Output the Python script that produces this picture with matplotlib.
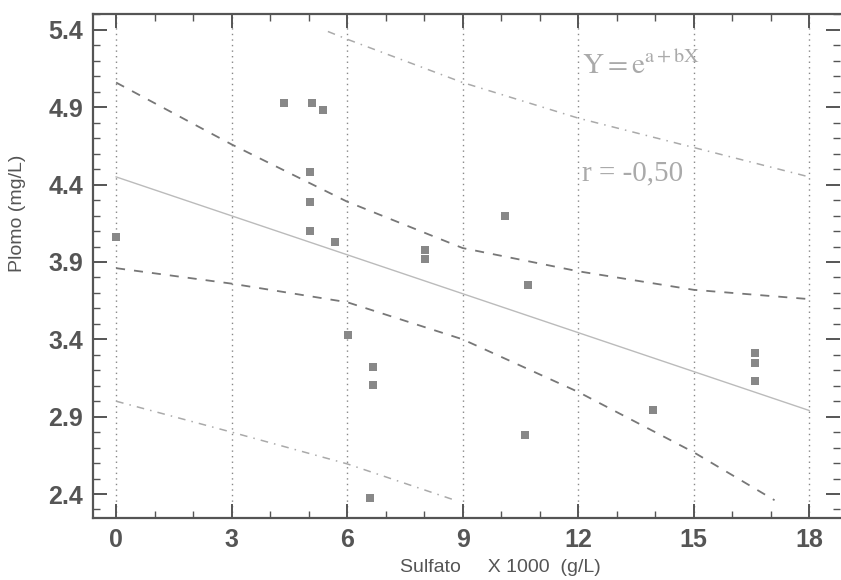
import matplotlib
matplotlib.use("Agg")
import matplotlib.pyplot as plt
from matplotlib.ticker import MultipleLocator

# Observed data points: Sulfato (x1000 g/L) vs Plomo (mg/L)
sulfato = [0.0, 4.36, 5.09, 5.38, 5.04, 5.04, 5.04, 5.69, 6.03, 6.68, 6.66,
           6.6, 8.03, 8.03, 10.1, 10.7, 10.62, 13.95, 16.6, 16.6, 16.6]
plomo = [4.06, 4.93, 4.93, 4.88, 4.48, 4.29, 4.10, 4.03, 3.43, 3.22, 3.105,
         2.375, 3.98, 3.92, 4.2, 3.75, 2.78, 2.94, 3.31, 3.25, 3.13]

# Fitted curve Y = e^(a+bX)
fit_x = [0.0, 18.0]
fit_y = [4.45, 2.94]

# Confidence band (dashed)
conf_x = [0, 3, 6, 9, 12, 15, 18]
conf_upper = [5.06, 4.66, 4.29, 3.99, 3.84, 3.72, 3.66]
conf_low_x = [0, 3, 6, 9, 12, 15, 17.1]
conf_lower = [3.86, 3.76, 3.64, 3.40, 3.06, 2.67, 2.36]

# Prediction band (light dash-dot)
pred_up_x = [5.5, 6, 9, 12, 15, 18]
pred_upper = [5.39, 5.34, 5.06, 4.83, 4.64, 4.45]
pred_low_x = [0, 3, 6, 8.8]
pred_lower = [3.0, 2.80, 2.595, 2.36]

xticks = [0, 3, 6, 9, 12, 15, 18]
yticks = [2.4, 2.9, 3.4, 3.9, 4.4, 4.9, 5.4]

W, H = 841, 580
fig = plt.figure(figsize=(W / 100, H / 100), dpi=100)
ax = fig.add_axes([93 / W, 62 / H, 747 / W, 504 / H])

ax.set_xlim(-0.6, 18.8)
ax.set_ylim(2.245, 5.503)

ax.set_xticks(xticks)
ax.set_xticklabels([str(t) for t in xticks])
ax.set_yticks(yticks)
ax.set_yticklabels([f"{t:.1f}" for t in yticks])
ax.xaxis.set_minor_locator(MultipleLocator(1))
ax.yaxis.set_minor_locator(MultipleLocator(0.1))

ax.tick_params(which="both", direction="in", top=True, right=True, colors="#555555")
ax.tick_params(which="major", length=10, width=1.4, labelsize=18, pad=7)
ax.tick_params(which="minor", length=5, width=1.0)
for lab in ax.get_xticklabels() + ax.get_yticklabels():
    lab.set_fontweight("bold")
    lab.set_fontfamily("Liberation Sans")
    lab.set_color("#555555")

for side in ["left", "bottom", "top"]:
    ax.spines[side].set_color("#555555")
    ax.spines[side].set_linewidth(1.6)
ax.spines["right"].set_visible(False)

ax.grid(axis="x", which="major", linestyle=(0, (1, 3)), color="#888888", linewidth=1.0)

ax.plot(fit_x, fit_y, color="#bbbbbb", linewidth=1.0, linestyle="-")
ax.plot(conf_x, conf_upper, color="#777777", linewidth=1.3, linestyle=(0, (5, 5)))
ax.plot(conf_low_x, conf_lower, color="#777777", linewidth=1.3, linestyle=(0, (5, 5)))
ax.plot(pred_up_x, pred_upper, color="#aaaaaa", linewidth=1.1, linestyle=(0, (5, 4, 1, 4)))
ax.plot(pred_low_x, pred_lower, color="#aaaaaa", linewidth=1.1, linestyle=(0, (5, 4, 1, 4)))

ax.scatter(sulfato, plomo, marker="s", s=28, color="#888888", zorder=3, linewidths=0)

plt.rcParams["mathtext.fontset"] = "stix"
ax.text(12.1, 5.17, r"$\mathrm{Y= e^{a+bX}}$", fontsize=21, color="#aaaaaa",
        va="center", ha="left")
ax.text(12.1, 4.475, "r = -0,50", fontsize=21, color="#aaaaaa",
        family="Liberation Serif", va="center", ha="left")

fig.text(18 / W, 1 - 213 / H, "Plomo (mg/L)", rotation=90, fontsize=14,
         color="#555555", family="Liberation Sans", ha="center", va="center")
fig.text(500 / W, 1 - 568 / H, "Sulfato     X 1000  (g/L)", fontsize=14,
         color="#555555", family="Liberation Sans", ha="center", va="center")

fig.savefig("out.png", dpi=100)
